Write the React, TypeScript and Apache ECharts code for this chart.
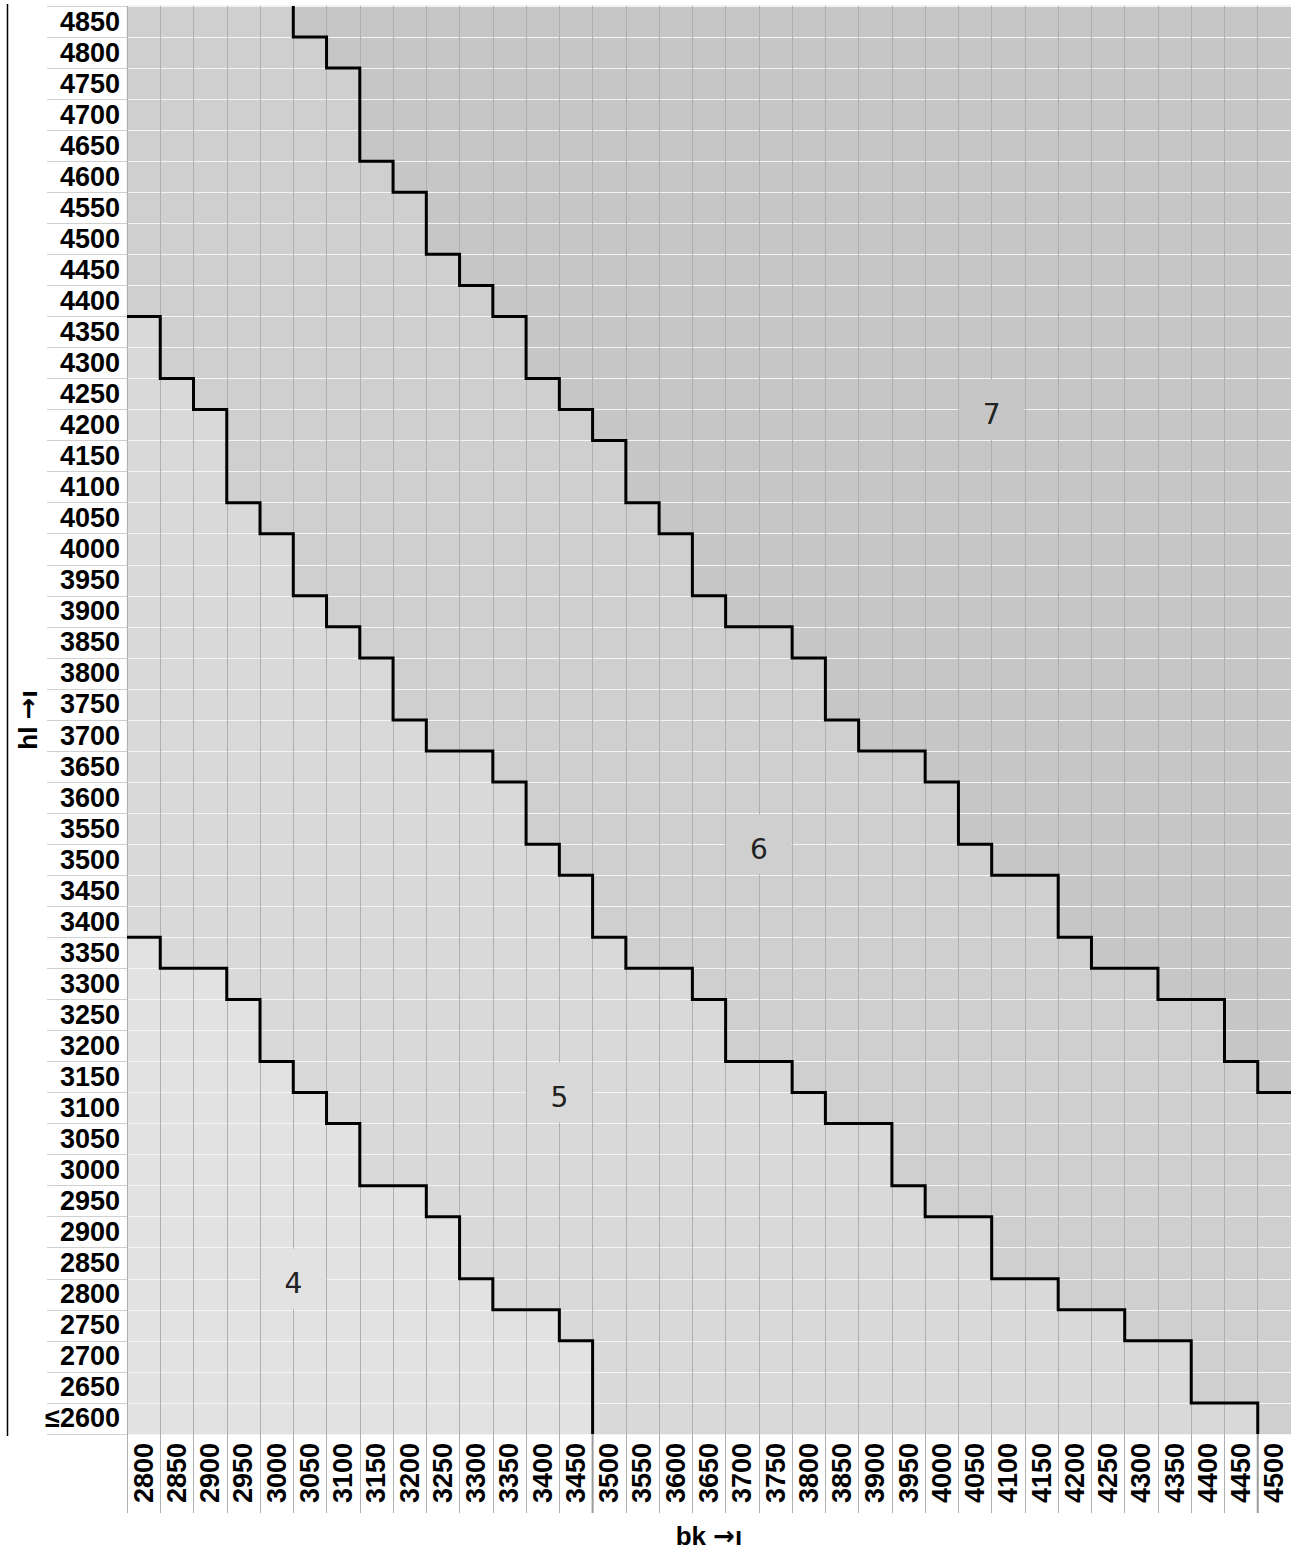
import React, { useEffect, useRef } from "react";
import * as echarts from "echarts";

// bk categories (x axis)
const bkValues = ["2800","2850","2900","2950","3000","3050","3100","3150","3200","3250","3300","3350","3400","3450","3500","3550","3600","3650","3700","3750","3800","3850","3900","3950","4000","4050","4100","4150","4200","4250","4300","4350","4400","4450","4500"];
// hl categories (y axis, bottom to top)
const hlValues = ["≤2600","2650","2700","2750","2800","2850","2900","2950","3000","3050","3100","3150","3200","3250","3300","3350","3400","3450","3500","3550","3600","3650","3700","3750","3800","3850","3900","3950","4000","4050","4100","4150","4200","4250","4300","4350","4400","4450","4500","4550","4600","4650","4700","4750","4800","4850"];

// highest hl still in class 4 / 5 / 6 for each bk column (null = none)
const max4 = [3350,3300,3300,3250,3150,3100,3050,2950,2950,2900,2800,2750,2750,2700,null,null,null,null,null,null,null,null,null,null,null,null,null,null,null,null,null,null,null,null,null];
const max5 = [4350,4250,4200,4050,4000,3900,3850,3800,3700,3650,3650,3600,3500,3450,3350,3300,3300,3250,3150,3150,3100,3050,3050,2950,2900,2900,2800,2800,2750,2750,2700,2700,2600,2600,null];
const max6 = [4850,4850,4850,4850,4850,4800,4750,4600,4550,4450,4400,4350,4250,4200,4150,4050,4000,3900,3850,3850,3800,3700,3650,3650,3600,3500,3450,3450,3350,3300,3300,3250,3250,3150,3100];

const classNames = ["4", "5", "6", "7"];
const classColors = ["#e2e2e2", "#d9d9d9", "#cfcfcf", "#c6c6c6"];
// lower-left cell (bk, hl) of the 2x2 block carrying each class label
const classLabelCells = [["3000", "2800"], ["3400", "3100"], ["3700", "3500"], ["4050", "4200"]];

const FONT = "'Liberation Sans', Arial, sans-serif";

function levelOf(v: number | null): number {
  if (v == null) return 0;
  const key = v <= 2600 ? "≤2600" : String(v);
  return hlValues.indexOf(key) + 1;
}

const b4 = max4.map(levelOf);
const b5 = max5.map(levelOf);
const b6 = max6.map(levelOf);
const boundaries = [b4, b5, b6];

function classAt(i: number, j: number): number {
  if (j < b4[i]) return 0;
  if (j < b5[i]) return 1;
  if (j < b6[i]) return 2;
  return 3;
}

const nameRich = {
  a: { fontSize: 26, fontWeight: "bold", color: "#000", fontFamily: "'DejaVu Sans', sans-serif" },
};

export default function App() {
  const ref = useRef<HTMLDivElement>(null);
  useEffect(() => {
    if (!ref.current) return;
    const chart = echarts.init(ref.current, undefined, { renderer: "svg" });
    const cells: number[][] = [];
    for (let i = 0; i < bkValues.length; i++) {
      for (let j = 0; j < hlValues.length; j++) {
        cells.push([i, j, classAt(i, j)]);
      }
    }
    const nRows = hlValues.length;

    const option: any = {
      animation: false,
      grid: { left: 127, top: 6, right: 0, bottom: 118, containLabel: false },
      visualMap: {
        show: false,
        type: "piecewise",
        dimension: 2,
        seriesIndex: 0,
        pieces: classColors.map((c, k) => ({ value: k, color: c })),
      },
      xAxis: {
        type: "category",
        data: bkValues,
        z: 5,
        axisLine: { show: false },
        axisTick: { show: true, length: 79, lineStyle: { color: "#b0b0b0", width: 1 } },
        axisLabel: {
          interval: 0,
          rotate: 90,
          margin: 9,
          fontSize: 27,
          fontWeight: "bold",
          color: "#000",
          fontFamily: FONT,
        },
        splitLine: { show: true, interval: 0, lineStyle: { color: "#b0b0b0", width: 1 } },
        name: "bk {a|→}ı",
        nameLocation: "middle",
        nameGap: 89,
        nameTextStyle: { fontSize: 26, fontWeight: "bold", color: "#000", fontFamily: FONT, rich: nameRich },
      },
      yAxis: {
        type: "category",
        data: hlValues,
        z: 5,
        axisLine: { show: false },
        axisTick: { show: true, length: 80, lineStyle: { color: "#d0d0d0", width: 1 } },
        axisLabel: {
          interval: 0,
          margin: 7,
          fontSize: 27,
          fontWeight: "bold",
          color: "#000",
          fontFamily: FONT,
        },
        splitLine: { show: true, interval: 0, lineStyle: { color: "#f4f4f4", width: 1 } },
        name: "hl {a|→}ı",
        nameLocation: "middle",
        nameGap: 86,
        nameMoveOverlap: false,
        nameRotate: 90,
        nameTextStyle: { fontSize: 26, fontWeight: "bold", color: "#000", fontFamily: FONT, rich: nameRich },
      },
      graphic: [
        {
          type: "line",
          shape: { x1: 7.5, y1: 4, x2: 7.5, y2: 1436 },
          style: { stroke: "#000", lineWidth: 1.5 },
          silent: true,
        },
      ],
      series: [
        {
          type: "heatmap",
          data: cells,
          itemStyle: { borderWidth: 0 },
          emphasis: { disabled: true },
          z: 2,
        },
        {
          type: "custom",
          z: 8,
          clip: false,
          silent: true,
          data: classLabelCells.map((_, k) => [k]),
          renderItem: (params: any, api: any) => {
            const k = params.dataIndex;
            const [bk, hl] = classLabelCells[k];
            const i = bkValues.indexOf(bk);
            const j = hlValues.indexOf(hl);
            const sz = api.size([1, 1]);
            const w = sz[0];
            const h = sz[1];
            const a = api.coord([i, j]);
            const b = api.coord([i + 1, j + 1]);
            const cx = (a[0] + b[0]) / 2;
            const cy = (a[1] + b[1]) / 2;
            const color = classColors[classAt(i, j)];
            return {
              type: "group",
              children: [
                {
                  type: "rect",
                  shape: { x: cx - w + 1, y: cy - h + 1, width: 2 * w - 2, height: 2 * h - 2 },
                  style: { fill: color, stroke: "none" },
                },
                {
                  type: "text",
                  x: cx,
                  y: cy + 5,
                  style: {
                    text: classNames[classAt(i, j)],
                    align: "center",
                    verticalAlign: "middle",
                    fontSize: 28,
                    fontFamily: "'DejaVu Sans', sans-serif",
                    fontWeight: "normal",
                    fill: "#222",
                  },
                },
              ],
            };
          },
        },
        {
          type: "custom",
          z: 10,
          clip: false,
          silent: true,
          data: boundaries.map((_, k) => [k]),
          renderItem: (params: any, api: any) => {
            const lv = boundaries[params.dataIndex];
            const sz = api.size([1, 1]);
            const w = sz[0];
            const h = sz[1];
            const yB = (level: number) =>
              level < nRows ? api.coord([0, level])[1] + h / 2 : api.coord([0, nRows - 1])[1] - h / 2;
            const isEdge = (level: number) => level === 0 || level === nRows;
            let pts: { p: number[]; edge: boolean }[] = [];
            for (let i = 0; i < lv.length; i++) {
              const cx = api.coord([i, 0])[0];
              const y = yB(lv[i]);
              pts.push({ p: [cx - w / 2, y], edge: isEdge(lv[i]) });
              pts.push({ p: [cx + w / 2, y], edge: isEdge(lv[i]) });
            }
            while (pts.length > 1 && pts[0].edge && pts[1].edge) pts.shift();
            while (pts.length > 1 && pts[pts.length - 1].edge && pts[pts.length - 2].edge) pts.pop();
            const children: any[] = [
              {
                type: "polyline",
                shape: { points: pts.map((q) => q.p) },
                style: { stroke: "#000", lineWidth: 3, fill: "none", lineJoin: "miter", lineCap: "butt" },
              },
            ];
            const last = pts[pts.length - 1];
            const bottom = yB(0);
            if (last && Math.abs(last.p[1] - bottom) < 0.5) {
              children.push({
                type: "line",
                shape: { x1: last.p[0], y1: bottom, x2: last.p[0], y2: bottom + 79 },
                style: { stroke: "#9a9a9a", lineWidth: 2 },
              });
            }
            return { type: "group", children };
          },
        },
      ],
    };
    chart.setOption(option);
    return () => chart.dispose();
  }, []);
  return (
    <div
      ref={ref}
      style={{ position: "absolute", left: 0, top: 0, width: 1291, height: 1554, background: "#fff" }}
    />
  );
}
